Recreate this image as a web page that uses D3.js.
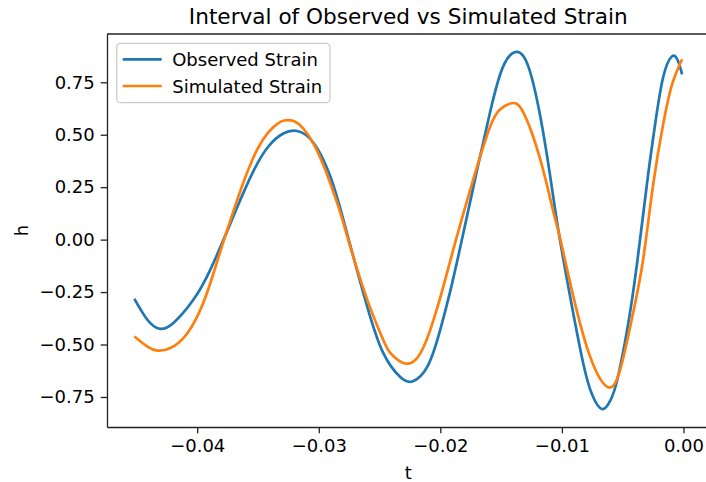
<!DOCTYPE html>
<html>

<head>
    <meta charset="utf-8">
    <title>Observed vs Simulated Strain</title>
    <script src="https://d3js.org/d3.v7.min.js"></script>

    <style>
        body {
            margin: 0;
            background: white;
        }

        text {
            font-family: "DejaVu Sans", sans-serif;
            fill: #000;
        }

        .axis .domain {
            stroke: #222;
            stroke-width: 1.3;
        }

        .axis line {
            stroke: #222;
            stroke-width: 1.3;
        }
    </style>
</head>

<body>
    <svg id="chart" height="482" width="706"></svg>

    <script>
        // values
        const obsT = [-0.04517, -0.04410, -0.04311, -0.04196, -0.04032, -0.03892, -0.03752, -0.03662, -0.03539,
            -0.03415, -0.03292, -0.03177, -0.03045, -0.02905, -0.02798, -0.02716, -0.02601, -0.02470, -0.02330,
            -0.02231, -0.02108, -0.02001, -0.01918, -0.01844, -0.01729, -0.01589, -0.01482, -0.01375, -0.01277,
            -0.01178, -0.01096, -0.01030, -0.00932, -0.00825, -0.00750, -0.00669, -0.00600, -0.00545, -0.00463,
            -0.00381, -0.00299, -0.00233, -0.00167, -0.00093, -0.00044, -0.00011];
        const obsH = [-0.282, -0.382, -0.425, -0.397, -0.287, -0.143, 0.043, 0.167, 0.325,
            0.444, 0.506, 0.518, 0.463, 0.301, 0.096, -0.081, -0.320, -0.540, -0.655,
            -0.676, -0.607, -0.430, -0.244, -0.057, 0.249, 0.612, 0.827, 0.895, 0.827,
            0.588, 0.301, 0.048, -0.272, -0.588, -0.741, -0.808, -0.765, -0.669, -0.430,
            -0.110, 0.272, 0.550, 0.774, 0.874, 0.850, 0.788];

        const simT = [-0.04517, -0.04410, -0.04328, -0.04221, -0.04081, -0.03950, -0.03852, -0.03769, -0.03687,
            -0.03605, -0.03506, -0.03415, -0.03341, -0.03276, -0.03202, -0.03128, -0.03045, -0.02964, -0.02890,
            -0.02823, -0.02741, -0.02601, -0.02470, -0.02412, -0.02305, -0.02190, -0.02083, -0.01976, -0.01894,
            -0.01729, -0.01589, -0.01507, -0.01416, -0.01318, -0.01178, -0.01071, -0.01022, -0.00907, -0.00767,
            -0.00627, -0.00521, -0.00414, -0.00332, -0.00249, -0.00167, -0.00093, -0.00011];
        const simH = [-0.462, -0.510, -0.529, -0.517, -0.446, -0.301, -0.134, 0.019, 0.162,
            0.296, 0.430, 0.511, 0.552, 0.569, 0.564, 0.530, 0.459, 0.358, 0.244,
            0.129, -0.033, -0.287, -0.478, -0.540, -0.588, -0.564, -0.430, -0.225, -0.048,
            0.287, 0.540, 0.621, 0.650, 0.607, 0.382, 0.134, 0.024, -0.268, -0.559,
            -0.702, -0.621, -0.349, -0.096, 0.263, 0.550, 0.741, 0.860];

        const xTicks = [-0.04, -0.03, -0.02, -0.01, 0.00];
        const yTicks = [-0.75, -0.50, -0.25, 0.00, 0.25, 0.50, 0.75];
        const seriesNames = ["Observed Strain", "Simulated Strain"];
        const seriesColors = ["#1f77b4", "#ff7f0e"];

        const svg = d3.select("#chart");
        const margin = { top: 34, right: -3.5, bottom: 55, left: 107 };
        const width = svg.attr("width");
        const height = svg.attr("height");
        const chartWidth = width - margin.left - margin.right;
        const chartHeight = height - margin.top - margin.bottom;

        const observed = obsT.map((t, i) => [t, obsH[i]]);
        const simulated = simT.map((t, i) => [t, simH[i]]);
        const allPts = observed.concat(simulated);

        // matplotlib style 5% padding around the data
        const tExtent = d3.extent(allPts, d => d[0]);
        const hExtent = d3.extent(allPts, d => d[1]);
        const tPad = (tExtent[1] - tExtent[0]) * 0.05;
        const hPad = (hExtent[1] - hExtent[0]) * 0.05;

        const xScale = d3.scaleLinear()
            .domain([tExtent[0] - tPad, tExtent[1] + tPad])
            .range([0, chartWidth]);
        const yScale = d3.scaleLinear()
            .domain([hExtent[0] - hPad, hExtent[1] + hPad])
            .range([chartHeight, 0]);

        const fmt = d => d3.format(".2f")(d).replace("-", "\u2212");

        const chartArea = svg.append("g")
            .attr("transform", `translate(${margin.left},${margin.top})`);

        let bottomAxis = d3.axisBottom(xScale)
            .tickValues(xTicks)
            .tickFormat(fmt)
            .tickSize(6.3)
            .tickPadding(6)
            .tickSizeOuter(0);
        chartArea.append("g")
            .attr("class", "x axis")
            .attr("transform", `translate(0,${chartHeight})`)
            .call(bottomAxis)
            .selectAll("text")
            .style("font-size", "18px");

        let leftAxis = d3.axisLeft(yScale)
            .tickValues(yTicks)
            .tickFormat(fmt)
            .tickSize(6.3)
            .tickPadding(6)
            .tickSizeOuter(0);
        chartArea.append("g")
            .attr("class", "y axis")
            .call(leftAxis)
            .selectAll("text")
            .style("font-size", "18px");

        // top spine
        chartArea.append("line")
            .attr("x1", 0).attr("x2", chartWidth)
            .attr("y1", 0).attr("y2", 0)
            .attr("stroke", "#222")
            .attr("stroke-width", 1.3);

        const lineGen = d3.line()
            .x(d => xScale(d[0]))
            .y(d => yScale(d[1]))
            .curve(d3.curveNatural);

        [observed, simulated].forEach((data, i) => {
            chartArea.append("path")
                .datum(data)
                .attr("fill", "none")
                .attr("stroke", seriesColors[i])
                .attr("stroke-width", 2.7)
                .attr("stroke-linejoin", "round")
                .attr("d", lineGen);
        });

        // title and axis labels
        svg.append("text")
            .attr("x", margin.left + chartWidth / 2)
            .attr("y", 24)
            .attr("text-anchor", "middle")
            .style("font-size", "21.6px")
            .text("Interval of Observed vs Simulated Strain");

        svg.append("text")
            .attr("x", margin.left + chartWidth / 2)
            .attr("y", 479)
            .attr("text-anchor", "middle")
            .style("font-size", "18px")
            .text("t");

        svg.append("text")
            .attr("transform", `translate(28,${margin.top + chartHeight / 2}) rotate(-90)`)
            .attr("text-anchor", "middle")
            .style("font-size", "18px")
            .text("h");

        // legend
        const legend = svg.append("g")
            .attr("transform", "translate(116.7,43.3)");
        legend.append("rect")
            .attr("width", 213.3)
            .attr("height", 59.4)
            .attr("rx", 4)
            .attr("fill", "white")
            .attr("fill-opacity", 0.8)
            .attr("stroke", "#cccccc")
            .attr("stroke-width", 1.3);

        seriesNames.forEach((name, i) => {
            const row = legend.append("g")
                .attr("transform", `translate(0,${16 + i * 26.7})`);
            row.append("line")
                .attr("x1", 6).attr("x2", 45)
                .attr("y1", 0).attr("y2", 0)
                .attr("stroke", seriesColors[i])
                .attr("stroke-width", 2.7);
            row.append("text")
                .attr("x", 55.5)
                .attr("y", 7)
                .style("font-size", "18px")
                .text(name);
        });
    </script>

</body>

</html>
